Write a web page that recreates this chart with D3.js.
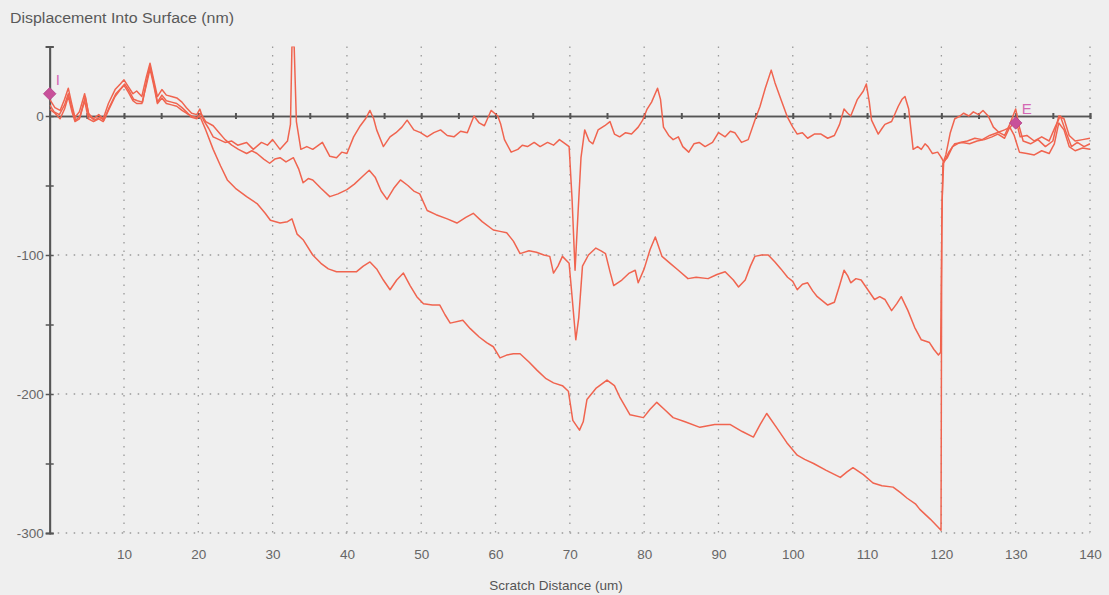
<!DOCTYPE html>
<html>
<head>
<meta charset="utf-8">
<script src="https://cdn.jsdelivr.net/npm/d3@7/dist/d3.min.js"></script>
<style>
  html, body { margin: 0; padding: 0; background: #efefef; }
  svg { display: block; }
  text { font-family: "Liberation Sans", Arial, sans-serif; }
</style>
</head>
<body>
<svg id="chart" width="1109" height="595"></svg>
<script>
// Scratch test depth profiles: [scratch distance (um), displacement (nm)]
const profileShallow = [
  [0,12],[0.7,6],[1.4,4],[2,12],[2.5,20],[3,8],[3.4,-1],[4,3],[4.7,16],[5.2,2],[5.9,-2],[6.6,1],[7.2,-2],[7.9,9],
  [8.8,19],[9.5,23],[10,26],[10.6,21],[11.2,16],[11.7,18],[12.4,14],[13,28],[13.5,38],[14,26],[14.5,14],[15.1,19],
  [15.7,15],[16.4,14],[17.1,13],[17.8,10],[18.4,6],[19.1,2],[19.8,1],[20.2,5],[20.7,-3],[21.4,-9],[22,-15],[22.8,-17],
  [23.6,-19],[24.5,-18],[25.3,-21],[26.5,-19],[27.4,-24],[28.5,-19],[29.3,-21],[30,-17],[31,-24],[32,-18],[32.4,-6],
  [32.6,50],[32.9,50],[33.2,-4],[33.8,-24],[34.6,-22],[35.4,-24],[36.7,-19],[37.7,-29],[38.6,-30],[39.3,-26],[40,-27],
  [40.9,-15],[41.8,-7],[42.5,-2],[43.1,4],[43.6,-2],[44,-10],[44.9,-22],[45.8,-15],[46.6,-12],[47.4,-8],[48.1,-3],
  [49,-10],[49.9,-12],[50.8,-15],[51.7,-12],[52.6,-10],[53.5,-14],[54.4,-15],[55.3,-11],[56.2,-12],[57.1,0],[57.8,-5],
  [58.5,-7],[59.4,4],[60.3,0],[60.7,-6],[61.2,-17],[62.1,-26],[63,-24],[63.6,-21],[64.3,-22],[65.2,-19],[66,-22],
  [67,-19],[67.8,-21],[68.6,-17],[69.4,-20],[69.9,-22],[70.3,-60],[70.7,-111],[71.1,-70],[71.5,-30],[72,-10],[72.6,-18],
  [73.1,-20],[73.8,-10],[74.7,-7],[75.4,-4],[76,-13],[76.7,-15],[77.5,-12],[78.3,-13],[79.2,-8],[79.8,-3],[80.4,5],
  [81,10],[81.8,20],[82.2,12],[82.6,-8],[83.3,-14],[83.9,-17],[84.6,-15],[85.2,-22],[86,-26],[86.7,-20],[87.4,-19],
  [88.2,-22],[89.2,-19],[90,-12],[90.9,-15],[91.6,-11],[92.2,-12],[93.1,-19],[94,-17],[94.9,-3],[95.6,7],[96.3,20],
  [97.1,33],[97.6,24],[98.4,12],[99.3,-1],[100,-8],[100.6,-13],[101.3,-12],[102,-16],[102.9,-13],[103.8,-13],
  [104.7,-16],[105.6,-14],[106.3,-6],[106.9,5],[107.4,2],[107.8,0],[108.7,12],[109.5,18],[109.9,23],[110.3,10],
  [110.6,-3],[111.5,-13],[112,-9],[112.4,-6],[113.3,-4],[114.2,7],[114.7,12],[115.1,14],[115.6,5],[116.2,-24],
  [116.8,-22],[117.3,-24],[117.8,-20],[118.2,-22],[118.8,-27],[119.5,-26],[120,-30],[120.3,-33],[120.8,-30],
  [121.5,-22],[122.5,-19],[123.5,-18],[124.5,-16],[125.5,-17],[126.5,-14],[127.5,-12],[128.5,-10],[129.3,-8],[130,-2],
  [130.6,-15],[131.5,-14],[132.5,-18],[133.5,-15],[134.5,-18],[135.3,-8],[136,0],[136.8,-12],[137.5,-22],[138.3,-19],
  [139.2,-22],[140,-20]
];

const profileMiddle = [
  [0,8],[0.6,3],[1.3,1],[2,8],[2.5,16],[3,5],[3.5,-3],[4.1,0],[4.8,14],[5.3,0],[6,-3],[6.7,-1],[7.3,-3],[8,6],
  [8.9,16],[9.6,20],[10.1,23],[10.7,18],[11.3,12],[11.8,11],[12.5,10],[13,24],[13.5,36],[14,24],[14.5,10],[15.1,15],
  [15.7,11],[16.4,10],[17.1,9],[17.8,6],[18.4,3],[19.1,-1],[19.8,-2],[20.3,2],[21,-4],[22,-7],[22.8,-12],[23.6,-17],
  [24.5,-21],[25.4,-24],[26.5,-27],[27.2,-25],[27.9,-27],[28.8,-31],[29.6,-34],[30.3,-31],[31,-30],[31.8,-33],
  [32.8,-30],[33.5,-38],[34.1,-48],[34.8,-45],[35.4,-46],[36.5,-52],[37.7,-58],[38.8,-56],[40,-53],[41,-49],
  [42.2,-43],[43,-39],[43.8,-44],[44.6,-54],[45.4,-60],[46.3,-52],[47.2,-46],[48.2,-50],[49,-54],[49.8,-56],
  [50.8,-68],[52,-71],[53.5,-74],[54.8,-77],[56,-73],[57,-70],[58.2,-76],[59.7,-82],[60.6,-83],[61.5,-84],[62.4,-90],
  [63.3,-99],[64.5,-97],[65.5,-98],[66.5,-100],[67.3,-101],[67.8,-113],[68.4,-108],[69,-101],[69.9,-106],[70.3,-130],
  [70.8,-161],[71.2,-145],[71.7,-108],[72.5,-100],[73.5,-95],[74.2,-97],[74.8,-99],[75.4,-112],[75.9,-122],[77,-118],
  [78,-113],[78.8,-111],[79.2,-120],[80,-110],[80.8,-96],[81.5,-87],[82.4,-101],[83.5,-106],[84.6,-111],[85.9,-117],
  [87,-116],[88.6,-117],[89.8,-114],[90.9,-112],[92,-118],[92.7,-123],[93.6,-118],[94.3,-108],[94.9,-101],[95.8,-100],
  [96.7,-100],[97.6,-105],[98.4,-110],[99.3,-116],[100,-119],[100.6,-125],[101.3,-121],[102,-120],[102.7,-126],
  [103.3,-130],[104,-133],[104.7,-136],[105.6,-134],[106.3,-122],[106.9,-111],[107.4,-115],[107.8,-120],[108.5,-117],
  [109.2,-118],[110.1,-125],[111,-132],[111.7,-130],[112.4,-132],[113.3,-140],[114,-135],[114.6,-130],[115.5,-140],
  [116.4,-152],[117.3,-161],[118.4,-163],[119,-168],[119.6,-172],[119.9,-170],[120.1,-60],[120.3,-34],[121,-26],
  [121.8,-20],[122.8,-19],[123.8,-20],[124.8,-18],[125.8,-17],[126.8,-15],[127.6,-13],[128.5,-16],[129.2,-8],
  [129.8,-14],[130.5,-26],[131.5,-27],[132.5,-28],[133.5,-25],[134.5,-27],[135.2,-20],[135.8,-5],[136.5,-10],
  [137.2,-22],[138,-25],[139,-23],[140,-24]
];

const profileDeep = [
  [0,5],[0.7,2],[1.4,-2],[2,5],[2.5,14],[3,3],[3.4,-4],[4,-2],[4.7,11],[5.2,-2],[5.9,-4],[6.6,-2],[7.2,-4],[7.9,4],
  [8.8,14],[9.5,19],[10,22],[10.6,17],[11.2,11],[11.7,9],[12.4,9],[13,22],[13.5,34],[14,22],[14.5,9],[15.1,13],
  [15.7,9],[16.4,8],[17.1,7],[17.8,4],[18.4,2],[19.1,0],[19.8,-1],[20.2,0],[21,-10],[22,-24],[23,-36],[23.9,-46],
  [25,-52],[26.5,-58],[27.9,-63],[29,-70],[29.7,-75],[31,-77],[32,-76],[32.6,-74],[33.3,-85],[34.1,-89],[35.4,-100],
  [36.5,-106],[37.5,-110],[38.6,-112],[40,-112],[41.3,-112],[42.2,-108],[43.1,-105],[44,-110],[44.9,-118],[45.8,-125],
  [46.7,-118],[47.6,-113],[48.5,-122],[49.4,-130],[50.3,-135],[51.5,-136],[52.5,-136],[53.2,-143],[53.9,-149],
  [55.6,-147],[56.6,-153],[57.8,-159],[58.8,-163],[59.7,-166],[60.6,-174],[61.5,-172],[62.4,-171],[63.3,-171],
  [64.5,-177],[65.6,-183],[66.8,-189],[67.8,-192],[69,-194],[69.8,-198],[70.4,-219],[71.3,-226],[71.8,-220],
  [72.3,-204],[73.5,-196],[75,-190],[76,-194],[76.7,-202],[78.1,-215],[79.9,-217],[80.8,-211],[81.7,-206],[82.7,-211],
  [83.9,-217],[85.5,-220],[87.5,-224],[89.5,-222],[91.6,-222],[93.2,-227],[94.7,-231],[95.6,-222],[96.5,-214],
  [97.8,-224],[99.2,-235],[100.6,-244],[101.6,-247],[102.8,-250],[104.5,-255],[106.4,-260],[107.3,-256],[108.1,-253],
  [109.5,-258],[110.8,-264],[112,-266],[113.5,-267],[114.5,-271],[115.4,-275],[116.5,-279],[117.1,-283],[118.5,-290],
  [119.6,-296],[119.95,-298],[120.05,-80],[120.2,-34],[120.6,-28],[121.2,-12],[121.8,-2],[122.5,0],[123,2],
  [123.7,0],[124.3,3],[125,1],[125.6,4],[126.3,0],[127,-8],[127.8,-12],[128.5,-14],[129.2,-6],[130,5],[130.5,-8],
  [131,-18],[132,-20],[133,-17],[134,-22],[135,-18],[135.8,0],[136.5,-2],[137.2,-14],[138,-18],[139,-17],[140,-16]
];

// Axis settings
const xTickLabels = [10,20,30,40,50,60,70,80,90,100,110,120,130,140];
const xMinorTicks = d3.range(5, 141, 5);
const yTicks = [-300,-250,-200,-150,-100,-50,0,50];
const yLabelled = [-300,-200,-100,0];
const yGrid = [-300,-200,-100];

// Start / end markers of the scratch
const markers = [
  { label: "I", x: 0, y: 16 },
  { label: "E", x: 130, y: -5 }
];

const svg = d3.select("#chart");
const x = d3.scaleLinear().domain([0, 140]).range([49.7, 1090]);
const y = d3.scaleLinear().domain([-300, 50]).range([533, 46.5]);

const gridColor = "#9a9a9a";
const axisColor = "#555";
const lineColor = "#f0644f";
const labelFont = "'Liberation Sans', Arial, sans-serif";

// Title
svg.append("text")
  .attr("x", 10).attr("y", 23)
  .attr("font-size", 14).attr("fill", "#595959")
  .attr("textLength", 224).attr("lengthAdjust", "spacingAndGlyphs")
  .text("Displacement Into Surface (nm)");

// Vertical dotted grid lines
svg.append("g").selectAll("line").data(xTickLabels).join("line")
  .attr("x1", d => x(d)).attr("x2", d => x(d))
  .attr("y1", y(50)).attr("y2", y(-300))
  .attr("stroke", gridColor).attr("stroke-width", 1.3)
  .attr("stroke-dasharray", "1.5,7");

// Horizontal dotted grid lines
svg.append("g").selectAll("line").data(yGrid).join("line")
  .attr("x1", x(0)).attr("x2", x(140))
  .attr("y1", d => y(d)).attr("y2", d => y(d))
  .attr("stroke", gridColor).attr("stroke-width", 1.3)
  .attr("stroke-dasharray", "1.5,6.5");

// X tick labels along the bottom
const xAxis = svg.append("g")
  .attr("transform", `translate(0,${y(-300)})`)
  .call(d3.axisBottom(x).tickValues(xTickLabels).tickSize(0).tickPadding(16).tickFormat(d => String(d)));
xAxis.select(".domain").remove();
xAxis.selectAll("text").attr("font-size", 13.5).attr("fill", "#666").style("font-family", labelFont);

// Zero line with small ticks every 5 um
const zeroDown = svg.append("g")
  .attr("transform", `translate(0,${y(0)})`)
  .call(d3.axisBottom(x).tickValues(xMinorTicks).tickSize(3).tickFormat(""));
const zeroUp = svg.append("g")
  .attr("transform", `translate(0,${y(0)})`)
  .call(d3.axisTop(x).tickValues(xMinorTicks).tickSize(3).tickFormat(""));
[zeroDown, zeroUp].forEach(g => {
  g.select(".domain").attr("stroke", axisColor).attr("stroke-width", 1.5);
  g.selectAll(".tick line").attr("stroke", axisColor).attr("stroke-width", 2);
});

// Y axis
const yAxisL = svg.append("g")
  .attr("transform", `translate(${x(0)},0)`)
  .call(d3.axisLeft(y).tickValues(yTicks).tickSize(4).tickPadding(2)
    .tickFormat(d => yLabelled.includes(d) ? String(d) : ""));
const yAxisR = svg.append("g")
  .attr("transform", `translate(${x(0)},0)`)
  .call(d3.axisRight(y).tickValues(yTicks).tickSize(4).tickFormat(""));
[yAxisL, yAxisR].forEach(g => {
  g.select(".domain").attr("stroke", axisColor).attr("stroke-width", 1.8);
  g.selectAll(".tick line").attr("stroke", axisColor).attr("stroke-width", 1.5);
});
yAxisL.selectAll("text").attr("font-size", 13.5).attr("fill", "#666").style("font-family", labelFont);

// Profiles
const line = d3.line().x(d => x(d[0])).y(d => y(d[1]));
svg.append("defs").append("clipPath").attr("id", "plot-clip")
  .append("rect").attr("x", x(0)).attr("y", y(50)).attr("width", x(140) - x(0)).attr("height", y(-300) - y(50) + 2);
const plot = svg.append("g").attr("clip-path", "url(#plot-clip)");
[profileShallow, profileMiddle, profileDeep].forEach(p => {
  plot.append("path").datum(p)
    .attr("d", line)
    .attr("fill", "none")
    .attr("stroke", lineColor)
    .attr("stroke-width", 1.5)
    .attr("stroke-linejoin", "round");
});

// Start / end markers
const mk = svg.append("g");
mk.selectAll("path").data(markers).join("path")
  .attr("d", d3.symbol(d3.symbolDiamond2, 100))
  .attr("transform", d => `translate(${x(d.x)},${y(d.y)})`)
  .attr("fill", "#c8509a").attr("stroke", "#b04088").attr("stroke-width", 0.8);
mk.selectAll("text").data(markers).join("text")
  .attr("x", d => x(d.x) + 6).attr("y", d => y(d.y) - 9)
  .attr("font-size", 15).attr("fill", "#d468b4")
  .text(d => d.label);

// X axis title
svg.append("text")
  .attr("x", 556).attr("y", 590)
  .attr("text-anchor", "middle")
  .attr("font-size", 13.5).attr("fill", "#555")
  .text("Scratch Distance  (um)");
</script>
</body>
</html>
